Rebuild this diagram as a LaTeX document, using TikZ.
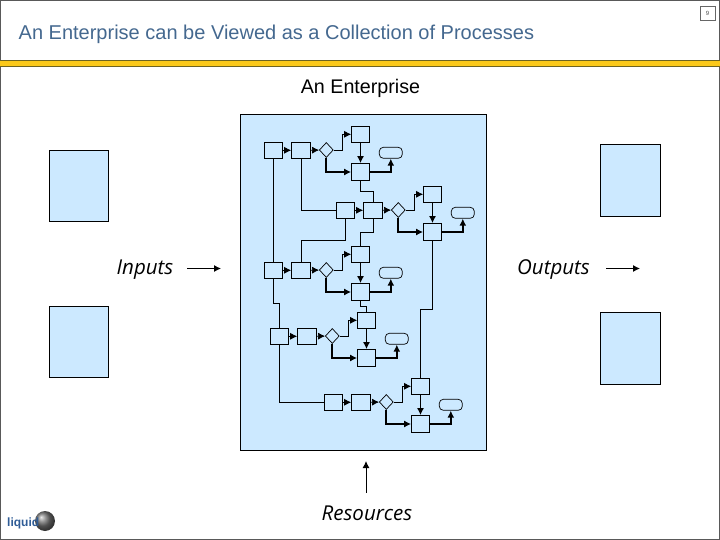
\documentclass[tikz,border=0pt]{standalone}
\usepackage{xcolor}
\usepackage{fontspec}
\setmainfont{Liberation Sans}
\newfontfamily\labelfont{Open Sans}
\usetikzlibrary{arrows.meta, shapes.geometric}
\definecolor{panelblue}{HTML}{CCE9FF}
\definecolor{titleblue}{HTML}{44688F}
\definecolor{bandyellow}{HTML}{FBC91A}
\definecolor{bandedge}{HTML}{6E6420}
\definecolor{logoblue}{HTML}{2F5C96}

\begin{document}
\begin{tikzpicture}[
  x=1pt, y=-1pt,
  every node/.style={inner sep=0pt},
  task/.style={draw=black, fill=panelblue, line width=0.7pt, minimum width=18pt, minimum height=16pt},
  wide/.style={task, minimum width=19pt},
  tall/.style={task, minimum height=17pt},
  gate/.style={draw=black, fill=panelblue, diamond, line width=0.7pt, minimum width=14pt, minimum height=15pt},
  stop/.style={draw=black, fill=panelblue, rounded corners=4pt, line width=0.7pt, minimum width=23pt, minimum height=11pt},
  store/.style={draw=black, fill=panelblue, line width=0.6pt},
  link/.style={draw=black, line width=0.7pt},
  flow/.style={link, -{Latex[length=7pt, width=7pt]}},
  heavy/.style={draw=black, line width=1.8pt, -{Latex[length=7pt, width=7pt]}},
  label/.style={font=\labelfont\fontsize{20.5}{24}\selectfont\itshape, anchor=base}
]
\useasboundingbox (0,0) rectangle (720,540);
\draw[draw=black!65, line width=1.2pt] (0.5,0.5) rectangle (719.5,539.5);

% header
\node[anchor=base west, text=titleblue, font=\fontsize{20}{24}\selectfont] (title) at (18.5,39.5) {An Enterprise can be Viewed as a Collection of Processes};
\node[draw=black!60, line width=0.5pt, minimum width=15pt, minimum height=14pt, font=\fontsize{6}{7}\selectfont, text=black!70] (pagenum) at (707.5,13.5) {9};
\fill[bandyellow] (0,60.5) rectangle (720,66);
\draw[bandedge, line width=0.8pt] (0,60.3) -- (720,60.3) (0,66.3) -- (720,66.3);

\node[font=\fontsize{19.7}{24}\selectfont, anchor=base] (enterprise) at (360.5,94) {An Enterprise};
\node[store, minimum width=246pt, minimum height=336pt] (panel) at (363.5,282) {};

% data stores
\node[store, minimum width=59pt, minimum height=71pt] (inA) at (78.5,186) {};
\node[store, minimum width=59pt, minimum height=71pt] (inB) at (78.5,342) {};
\node[store, minimum width=60pt, minimum height=72pt] (outA) at (630.5,180.5) {};
\node[store, minimum width=60pt, minimum height=72pt] (outB) at (630.5,348.5) {};

% first process
\node[task] (a1) at (273.5,150.3) {};
\node[wide] (b1) at (301,150.3) {};
\node[gate] (g1) at (326.3,150) {};
\node[task] (t1) at (360.5,134.3) {};
\node[tall] (l1) at (360.5,172) {};
\node[stop] (s1) at (390.8,152.8) {};

% second process
\node[task] (a2) at (345.5,210.3) {};
\node[wide] (b2) at (373,210.3) {};
\node[gate] (g2) at (398.3,210) {};
\node[task] (t2) at (432.5,194.3) {};
\node[tall] (l2) at (432.5,232) {};
\node[stop] (s2) at (462.8,212.8) {};

% third process
\node[task] (a3) at (273.5,270.3) {};
\node[wide] (b3) at (301,270.3) {};
\node[gate] (g3) at (326.3,270) {};
\node[task] (t3) at (360.5,254.3) {};
\node[tall] (l3) at (360.5,292) {};
\node[stop] (s3) at (390.8,272.8) {};

% fourth process
\node[task] (a4) at (279.5,336.3) {};
\node[wide] (b4) at (307,336.3) {};
\node[gate] (g4) at (332.3,336) {};
\node[task] (t4) at (366.5,320.3) {};
\node[tall] (l4) at (366.5,358) {};
\node[stop] (s4) at (396.8,338.8) {};

% fifth process
\node[task] (a5) at (333.5,402.3) {};
\node[wide] (b5) at (361,402.3) {};
\node[gate] (g5) at (386.3,402) {};
\node[task] (t5) at (420.5,386.3) {};
\node[tall] (l5) at (420.5,424) {};
\node[stop] (s5) at (450.8,404.8) {};

% connectors inside each process
\draw[flow] (a1) -- (b1);
\draw[flow] (b1) -- (g1);
\draw[flow] (g1.east) -- ++(9,0) |- (t1.west);
\draw[heavy] (g1.south) |- (l1.west);
\draw[heavy] (t1) -- (l1);
\draw[heavy] (l1.east) -| (s1.south);

\draw[flow] (a2) -- (b2);
\draw[flow] (b2) -- (g2);
\draw[flow] (g2.east) -- ++(9,0) |- (t2.west);
\draw[heavy] (g2.south) |- (l2.west);
\draw[heavy] (t2) -- (l2);
\draw[heavy] (l2.east) -| (s2.south);

\draw[flow] (a3) -- (b3);
\draw[flow] (b3) -- (g3);
\draw[flow] (g3.east) -- ++(9,0) |- (t3.west);
\draw[heavy] (g3.south) |- (l3.west);
\draw[heavy] (t3) -- (l3);
\draw[heavy] (l3.east) -| (s3.south);

\draw[flow] (a4) -- (b4);
\draw[flow] (b4) -- (g4);
\draw[flow] (g4.east) -- ++(9,0) |- (t4.west);
\draw[heavy] (g4.south) |- (l4.west);
\draw[heavy] (t4) -- (l4);
\draw[heavy] (l4.east) -| (s4.south);

\draw[flow] (a5) -- (b5);
\draw[flow] (b5) -- (g5);
\draw[flow] (g5.east) -- ++(9,0) |- (t5.west);
\draw[heavy] (g5.south) |- (l5.west);
\draw[heavy] (t5) -- (l5);
\draw[heavy] (l5.east) -| (s5.south);

% connectors between processes
\draw[link] (a1) -- (a3);
\draw[link] (b1.south) |- (a2.west);
\draw[link] (l1.south) -- ++(0,10.5) -| (b2.north);
\draw[link] (a2.south) -- ++(0,21.5) -| (b3.north);
\draw[link] (b2.south) -- ++(0,13.5) -| (t3.north);
\draw[link] (l2.south) -- ++(0,68.5) -| ([xshift=-0.2pt]t5.north);
\draw[link] (a3.south) -- ++(0,24.7) -| (a4.north);
\draw[link] (l3.south) -- ++(0,5.8) -| (t4.north);
\draw[link] (a4.south) |- (a5.west);

% side labels
\node[label] (inputs) at (145,274.5) {Inputs};
\node[label] (outputs) at (553.5,274.5) {Outputs};
\node[label] (resources) at (367,520.5) {Resources};
\coordinate (inS) at (187,268.5);
\coordinate (inE) at (221,268.5);
\coordinate (outS) at (606,268.5);
\coordinate (outE) at (640,268.5);
\coordinate (resS) at (366,492.5);
\coordinate (resE) at (366,461);
\draw[flow, line width=1pt] (inS) -- (inE);
\draw[flow, line width=1pt] (outS) -- (outE);
\draw[flow, line width=1pt] (resS) -- (resE);

% logo
\shade[ball color=black!55] (45,521) circle (10);
\node[anchor=base west, text=logoblue, font=\fontsize{12}{15}\selectfont\bfseries] (logo) at (7,526) {liquid};
\end{tikzpicture}
\end{document}
